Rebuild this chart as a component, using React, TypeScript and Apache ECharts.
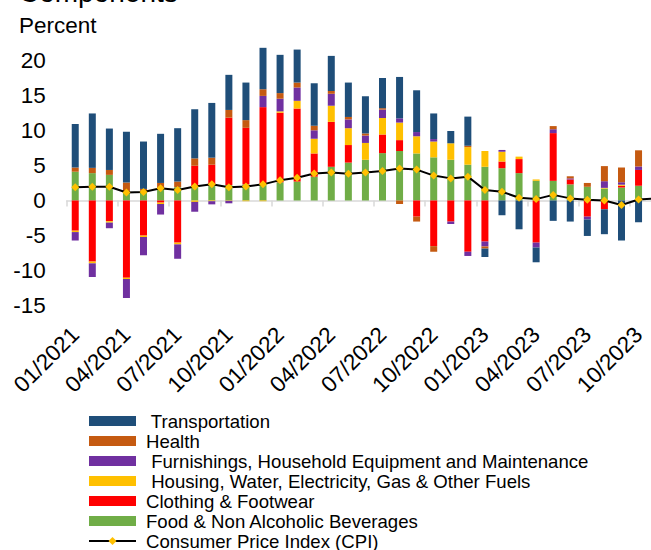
import React, { useEffect, useRef } from "react";
import * as echarts from "echarts";

const months = [
  "01/2021", "02/2021", "03/2021", "04/2021", "05/2021", "06/2021", "07/2021", "08/2021", "09/2021", "10/2021", "11/2021", "12/2021",
  "01/2022", "02/2022", "03/2022", "04/2022", "05/2022", "06/2022", "07/2022", "08/2022", "09/2022", "10/2022", "11/2022", "12/2022",
  "01/2023", "02/2023", "03/2023", "04/2023", "05/2023", "06/2023", "07/2023", "08/2023", "09/2023", "10/2023", "11/2023",
];

const food = [4.1, 3.9, 3.65, 1.3, 1.4, 1.7, 1.9, 2.0, 2.1, 2.2, 2.3, 2.4, 2.6, 2.7, 3.4, 4.8, 5.4, 5.8, 6.75, 7.05, 6.7, 6.15, 5.8, 5.1, 4.8, 4.6, 3.9, 2.8, 2.8, 2.3, 1.95, 1.7, 1.85, 2.1];
const clothing = [-4.3, -8.7, -2.95, -11.0, -5.0, -0.3, -6.0, 2.95, 3.0, 9.6, 8.05, 10.9, 9.9, 10.4, 3.3, 6.4, 2.5, 0, 2.65, 1.55, -2.3, -6.5, -3.0, -7.3, -5.85, 0.95, 2.0, -6.0, 6.8, 0.7, -2.3, -1.25, 0.25, 2.25];
const housing = [-0.2, -0.25, -0.2, -0.2, -0.2, -0.2, -0.25, -0.2, -0.1, -0.05, -0.1, -0.1, 0.2, 1.1, 2.1, 2.3, 2.4, 2.4, 2.35, 2.5, 2.45, 2.25, 2.35, 2.5, 2.25, 1.4, 0.35, 0.2, 0, 0, 0, 0.1, 0.15, 0];
const furnishings = [-1.2, -1.95, -0.8, -2.7, -2.6, -1.5, -2.05, -1.4, -0.45, -0.35, 0, 1.6, 1.8, 1.9, 1.2, 1.7, 1.25, 1.05, 1.2, 0.6, 0.6, 0.35, -0.35, -0.6, -0.7, 0.25, 0, -0.7, 0.55, 0.15, -0.4, 0.95, 0.35, 0.5];
const health = [0.6, 0.75, 0.7, 1.25, 0.25, 0.8, 0.8, 1.05, 1.0, 1.1, 1.1, 0.95, 0.8, 0.7, 0.65, 0.4, 0.35, 0.3, 0.2, -0.5, -0.7, -0.8, 0, 0.2, -0.3, 0, 0, 0, 0.45, 0.3, 0.55, 2.15, 2.1, 2.3];
const transportation = [6.2, 7.75, 5.9, 7.25, 6.75, 7.0, 7.6, 7.0, 7.8, 5.0, 5.35, 5.9, 5.45, 4.7, 6.05, 5.0, 4.9, 5.3, 4.3, 5.9, 5.95, 3.65, 1.75, 4.15, -1.2, -2.1, -4.1, -2.1, -2.9, -3.0, -2.35, -3.55, -5.7, -3.1];
const cpi = [1.9, 1.95, 1.95, 1.15, 1.2, 1.75, 1.5, 2.0, 2.3, 1.9, 2.0, 2.3, 2.9, 3.25, 3.85, 4.0, 3.8, 4.0, 4.2, 4.55, 4.4, 3.55, 3.15, 3.4, 1.5, 1.25, 0.4, 0.2, 0.8, 0.3, 0.1, 0.0, -0.65, 0.15, 0.3];

const yTickLabels = [-15, -10, -5, 0, 5, 10, 15, 20];

const FONT = "'Liberation Sans', Arial, sans-serif";

const barSeries = [
  { name: "Food & Non Alcoholic Beverages", data: food, color: "#70AD47" },
  { name: "Clothing & Footwear", data: clothing, color: "#FF0000" },
  { name: " Housing, Water, Electricity, Gas & Other Fuels", data: housing, color: "#FFC000" },
  { name: " Furnishings, Household Equipment and Maintenance", data: furnishings, color: "#7030A0" },
  { name: "Health", data: health, color: "#C55A11" },
  { name: " Transportation", data: transportation, color: "#1F4E79" },
];
const cpiName = "Consumer Price Index (CPI)";

const CHART_W = 680;

export default function App() {
  const ref = useRef<HTMLDivElement>(null);
  useEffect(() => {
    if (!ref.current) return;
    const chart = echarts.init(ref.current, undefined, { renderer: "svg" });
    const series: any[] = barSeries.map((s) => ({
      name: s.name,
      type: "bar",
      stack: "total",
      barWidth: 7,
      xAxisIndex: 0,
      itemStyle: { color: s.color },
      data: s.data.map((v) => (v === 0 ? null : v)),
    }));
    series.push({
      name: cpiName,
      type: "line",
      xAxisIndex: 0,
      data: cpi,
      color: "#000",
      lineStyle: { color: "#000", width: 2 },
      itemStyle: { color: "#FFC000" },
      symbol: "diamond",
      symbolSize: 8,
      showSymbol: true,
      showAllSymbol: true,
      z: 10,
    });
    chart.setOption({
      animation: false,
      backgroundColor: "#fff",
      textStyle: { fontFamily: FONT },
      graphic: [
        { type: "text", left: 19, top: -22, style: { text: "Components", font: `28px ${FONT}`, fill: "#000" } },
        { type: "text", left: 19, top: 14, style: { text: "Percent", font: `22.5px ${FONT}`, fill: "#000" } },
      ],
      grid: { left: 66.7, width: 597.45, top: 25, bottom: 209.1, containLabel: false },
      legend: {
        orient: "vertical",
        left: 83,
        top: 406,
        height: 200,
        itemWidth: 47,
        itemHeight: 10,
        itemGap: 0,
        textStyle: { fontSize: 18.6, lineHeight: 20, color: "#000", fontFamily: FONT, padding: [0, 0, 0, 5] },
        data: [
          { name: " Transportation", icon: "rect" },
          { name: "Health", icon: "rect" },
          { name: " Furnishings, Household Equipment and Maintenance", icon: "rect" },
          { name: " Housing, Water, Electricity, Gas & Other Fuels", icon: "rect" },
          { name: "Clothing & Footwear", icon: "rect" },
          { name: "Food & Non Alcoholic Beverages", icon: "rect" },
          { name: cpiName },
        ],
      },
      xAxis: [
        {
          type: "category",
          data: months,
          position: "bottom",
          axisLine: { show: false, onZero: false },
          axisTick: { show: false },
          axisLabel: { interval: 2, rotate: 45, fontSize: 22.5, color: "#000", margin: -10, fontFamily: FONT },
        },
        {
          type: "category",
          data: months,
          position: "bottom",
          axisLine: { show: true, onZero: true, lineStyle: { color: "#d9d9d9", width: 1.5 } },
          axisTick: { show: true, interval: 2, length: 6, lineStyle: { color: "#d9d9d9", width: 1.5 } },
          axisLabel: { show: false },
        },
      ],
      yAxis: {
        type: "value",
        min: -20,
        max: 25,
        interval: 5,
        splitLine: { show: false },
        axisLine: { show: false },
        axisTick: { show: false },
        axisLabel: {
          fontSize: 22.5,
          color: "#000",
          margin: 21,
          fontFamily: FONT,
          formatter: (v: number) => (yTickLabels.includes(v) ? String(v) : ""),
        },
      },
      series,
    });
    return () => chart.dispose();
  }, []);
  return (
    <div style={{ position: "absolute", left: 0, top: 0, width: 651, height: 550, overflow: "hidden", background: "#fff" }}>
      <div ref={ref} style={{ width: CHART_W, height: 550 }} />
    </div>
  );
}
